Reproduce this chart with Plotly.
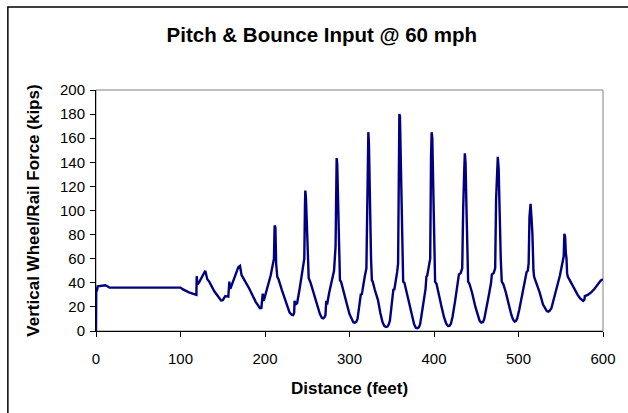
import plotly.graph_objects as go

title_text = "Pitch & Bounce Input @ 60 mph"
x_title = "Distance (feet)"
y_title = "Vertical Wheel/Rail Force (kips)"

distance = [
    0, 0.3, 1, 2, 5, 11, 14, 16, 100, 103, 110, 118.8, 119.2, 120, 122.5, 125.5, 129.3, 131.7, 134, 140,
    146, 148, 150, 153, 156.6, 157.8, 159, 161, 164, 168.4, 170.4, 172.3, 175, 181.3, 189, 192, 194, 195.7,
    197.3, 198.5, 201, 206.7, 210.6, 211.4, 212.3, 213.2, 214.5, 216, 220, 226.2, 229, 231.5, 233.3,
    234.5, 235, 236, 238, 241, 243.8, 246.5, 247.3, 247.7, 248.5, 249.5, 251, 251.7,
    254, 258, 262, 265, 267.3, 269, 270.5, 271.5, 272.5, 273.5, 276, 279, 281.7, 283.5, 284.3, 284.8, 285.5, 287, 288.7,
    290, 293, 297, 300, 302.5, 304.5, 306.3, 308, 309.5, 311, 312.5, 313.5, 314.5, 316, 318, 320, 321, 321.8, 322.3, 323, 324, 325.5, 326.5,
    327.5, 330, 333.7, 336.5, 339, 341, 343, 345, 346.5, 347.8, 349.5, 350.5, 351.5, 352, 353, 355, 356.4, 357.5, 358.4, 359, 359.7, 360.5, 361.5, 362.5, 363.5,
    365, 367, 371, 374, 376.5, 378.5, 380.3, 382, 383.5, 385, 388, 390, 391, 392, 393.5, 395.5, 396.5, 397.2, 398, 399, 400.3, 401.3,
    403, 405, 409, 412, 414.5, 416.5, 418.3, 420, 422, 425, 428, 429.5, 431.5, 433.4, 434.5, 435.2, 435.8, 436.5, 437.3, 438.5, 439.5, 440.4,
    442, 445, 449, 451.5, 454, 456, 458, 459.5, 462, 465, 467.5, 468.5, 470.5, 472.4, 473.5, 474.5, 475.5, 476.5, 477.5, 479, 480.2,
    482, 485, 489, 491.5, 493.5, 495.3, 497, 498.5, 501, 504, 507, 509.6, 511, 512, 513, 513.7, 514.3, 515.3, 516.5, 517.7, 518.5,
    521, 525, 529, 531.5, 533.5, 535.3, 537, 539, 542, 546, 549, 550.6, 552, 553.5, 554.3, 555.2, 556, 556.8, 557.5, 558.4,
    560, 565, 570, 573, 575, 576.5, 578, 578.5, 582, 586, 590, 594, 597.5, 600,
]

force_kips = [
    0, 36, 33, 37, 37.5, 38, 37, 36, 36, 34.5, 32, 30, 45.5, 38.5, 41, 45, 50, 43, 41, 33,
    26.5, 25.3, 25.6, 29, 28.5, 41, 35, 39, 45, 53, 54, 46.3, 43, 35.3, 24.2, 20.5, 19, 19.2,
    31, 25, 32, 46, 60, 87.6, 86, 56, 45, 43, 34, 20, 15.5, 13.5, 13.2,
    15, 25, 22, 23, 35, 50, 60, 105, 116.5, 110, 85, 60, 44,
    40, 30, 20, 14, 11, 10.5, 11.5, 13, 25, 22, 32, 42, 50, 70, 140, 143.5, 138, 90, 42,
    41, 32, 22, 14, 9.5, 7.3, 6.9, 7.5, 10, 20, 28, 31, 30, 38, 45, 52, 100, 162, 165, 155, 110, 60, 42,
    41, 34, 25.6, 15, 7.5, 4.3, 3.3, 3.7, 5.5, 8.5, 18, 23, 33, 35, 34, 42, 49, 56, 150, 180, 178, 150, 90, 50, 41,
    40, 34, 20, 11, 5.5, 2.7, 2.3, 3, 5.5, 12, 25, 35, 45, 46, 52, 60, 145, 165, 160, 120, 70, 41,
    39, 32, 20, 11, 6, 4.2, 4.3, 6, 12, 25, 38, 47, 48, 52, 100, 130, 134, 147.4, 140, 100, 60, 41,
    39, 32, 20, 13, 8.5, 7, 7.5, 10, 18, 30, 40, 47, 48, 52, 110, 140, 144.6, 135, 90, 60, 41,
    39, 32, 20, 13.5, 9.5, 7.8, 8.3, 10.5, 18, 28, 40, 49, 50, 56, 95, 100, 105.5, 95, 80, 50, 45,
    40, 32, 22, 18.5, 16.5, 16, 16.8, 19, 28, 38, 46, 52, 58, 62, 80.7, 78, 65, 60, 48, 45,
    43, 36, 30, 27, 25.5, 25, 26, 29, 30, 32, 35, 39, 42, 43,
]

x_ticks = [0, 100, 200, 300, 400, 500, 600]
y_ticks = [0, 20, 40, 60, 80, 100, 120, 140, 160, 180, 200]

FONT = "Liberation Sans, Arial, sans-serif"

fig = go.Figure()
fig.add_trace(go.Scatter(
    x=distance, y=force_kips, mode="lines",
    line=dict(color="#000080", width=2.4),
    showlegend=False, hoverinfo="skip",
))

L, R, T, B = 96, 20, 90, 82
W, H = 628, 413
pw, ph = W - L - R, H - T - B

fig.update_layout(
    width=W, height=H,
    margin=dict(l=L, r=R, t=T, b=B),
    paper_bgcolor="white", plot_bgcolor="white",
    font=dict(family=FONT, color="black"),
    title=dict(text=f"<b>{title_text}</b>", x=(324 - L) / pw, xref="paper",
               xanchor="center", y=1 - 35 / H, yanchor="middle",
               font=dict(size=20.5, family=FONT, color="black")),
    xaxis=dict(range=[0, 600], tickvals=x_ticks, ticktext=[str(v) for v in x_ticks],
               showgrid=False, zeroline=False, showline=True, linecolor="black", linewidth=1,
               ticks="outside", ticklen=5, tickcolor="black", ticklabelstandoff=9,
               tickfont=dict(size=15, family=FONT, color="black"),
               title=dict(text=f"<b>{x_title}</b>", font=dict(size=17, family=FONT, color="black"),
                          standoff=16)),
    yaxis=dict(range=[0, 200], tickvals=y_ticks, ticktext=[str(v) for v in y_ticks],
               showgrid=False, zeroline=False, showline=True, linecolor="black", linewidth=1,
               ticks="outside", ticklen=5, tickcolor="black", ticklabelstandoff=2,
               tickfont=dict(size=15, family=FONT, color="black"),
               title=dict(text=f"<b>{y_title}</b>", font=dict(size=17, family=FONT, color="black"),
                          standoff=16)),
)

# plot area border (gray top/right) and outer chart frame
fig.add_shape(type="rect", xref="paper", yref="paper", x0=0, x1=1, y0=0, y1=1,
              line=dict(color="#808080", width=1), layer="below")
fig.add_shape(type="rect", xref="paper", yref="paper",
              x0=(7 - L) / pw, x1=(W + 20 - L) / pw,
              y0=-(H + 20 - (T + ph)) / ph, y1=1 + (T - 7) / ph,
              line=dict(color="black", width=1.5), layer="below")

fig.write_html("out.html", config={"displayModeBar": False},
               post_script="document.body.style.margin='0';")
